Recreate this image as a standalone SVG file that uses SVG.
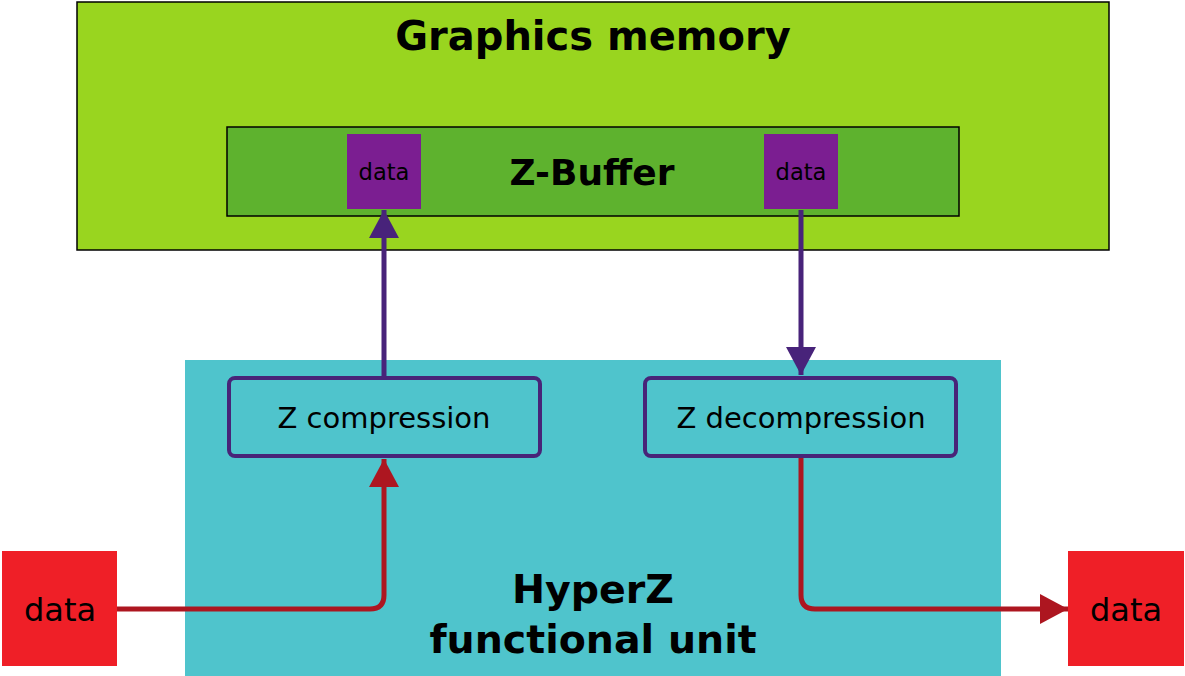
<svg xmlns="http://www.w3.org/2000/svg" width="1185" height="676" viewBox="0 0 1185 676">
<style>
text{font-family:"DejaVu Sans",sans-serif;text-anchor:middle}
.b{font-weight:bold}
.box{fill:none;stroke:#482478;stroke-width:4}
.pl{fill:none;stroke:#48237a;stroke-width:5}
.rl{fill:none;stroke:#ad1620;stroke-width:5}
</style>
<defs>
<marker id="pa" markerUnits="userSpaceOnUse" markerWidth="32" markerHeight="30" refX="28" refY="15" orient="auto"><path d="M0,0L28,15L0,30Z" fill="#48237a"/></marker>
<marker id="ra" markerUnits="userSpaceOnUse" markerWidth="32" markerHeight="30" refX="28" refY="15" orient="auto"><path d="M0,0L28,15L0,30Z" fill="#ad1620"/></marker>
</defs>
<g id="graphics-memory"><rect x="77" y="2" width="1032" height="248" fill="#99d51f" stroke="#000" stroke-width="1.5"/><text class="b" x="593" y="50" font-size="40">Graphics memory</text></g>
<g id="zbuffer"><rect x="227" y="127" width="732" height="89" fill="#5eb22e" stroke="#000" stroke-width="1.5"/><text class="b" x="592" y="185" font-size="36">Z-Buffer</text></g>
<g id="data1"><rect x="347" y="134" width="74" height="75" fill="#7b1e91"/><text x="384" y="180" font-size="22.6">data</text></g>
<g id="data2"><rect x="764" y="134" width="74" height="75" fill="#7b1e91"/><text x="801" y="180" font-size="22.6">data</text></g>
<g id="hyperz"><rect x="185" y="360" width="816" height="316" fill="#4fc4cc"/><text class="b" x="593" y="603" font-size="39.5">HyperZ</text><text class="b" x="593" y="653" font-size="39.5">functional unit</text></g>
<g id="zcomp"><rect class="box" x="229" y="378" width="311" height="78" rx="6"/><text x="384" y="428" font-size="29">Z compression</text></g>
<g id="zdecomp"><rect class="box" x="645" y="378" width="311" height="78" rx="6"/><text x="801" y="428" font-size="29">Z decompression</text></g>
<g id="datain"><rect x="2" y="551" width="115" height="115" fill="#ef1f27"/><text x="60" y="621" font-size="32">data</text></g>
<g id="dataout"><rect x="1068" y="551" width="116" height="115" fill="#ef1f27"/><text x="1126" y="621" font-size="32">data</text></g>
<g id="connectors">
<path class="pl" d="M384,380V210" marker-end="url(#pa)"/>
<path class="pl" d="M801,210V375" marker-end="url(#pa)"/>
<path class="rl" d="M117,609H370Q384,609 384,595V459" marker-end="url(#ra)"/>
<path class="rl" d="M801,458V595Q801,609 815,609H1068" marker-end="url(#ra)"/>
</g>
</svg>
